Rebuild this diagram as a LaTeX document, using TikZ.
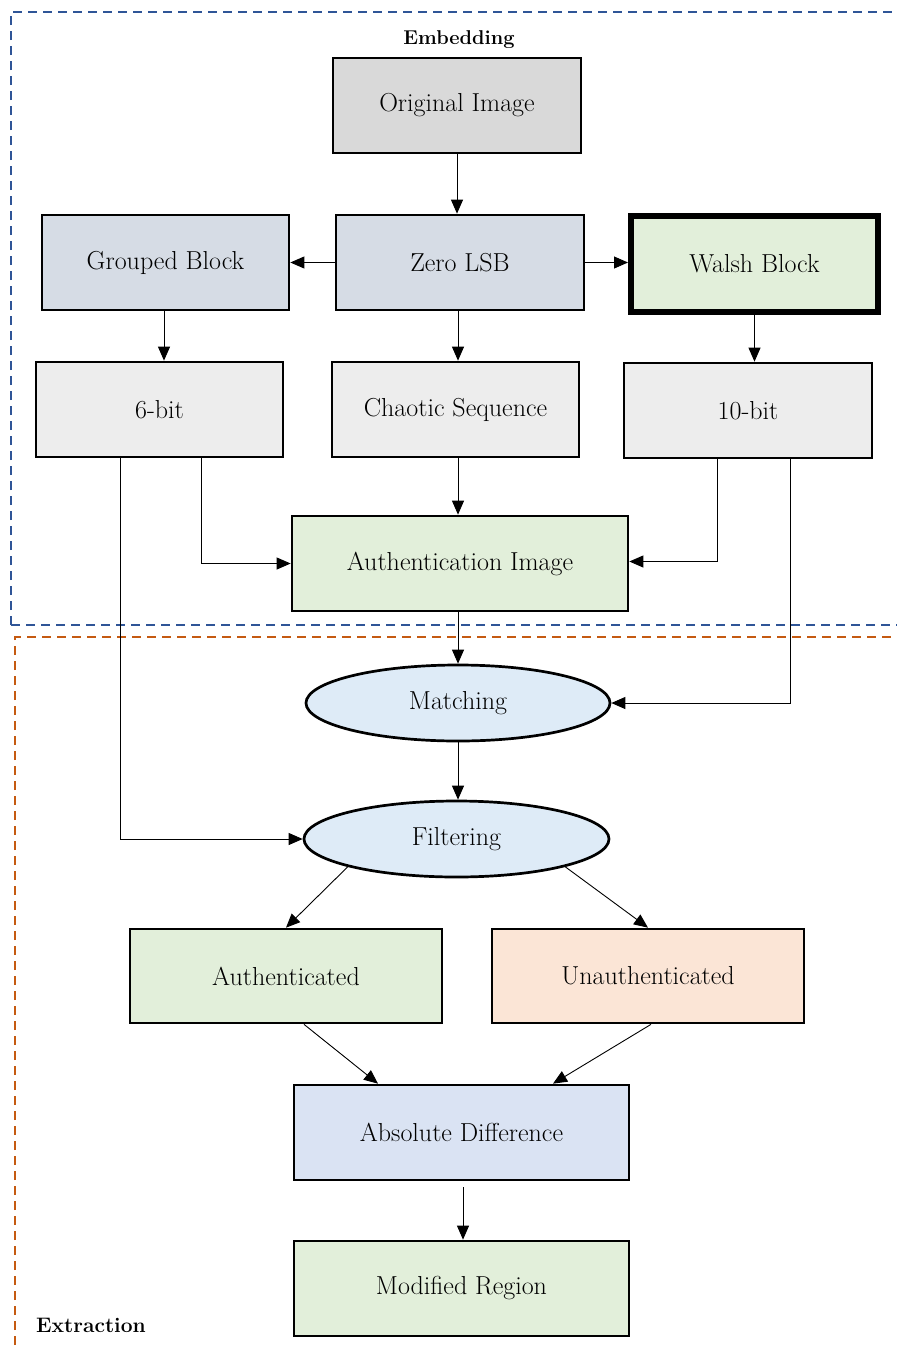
\documentclass[tikz,border=0pt]{standalone}
\usepackage{fontspec}
\setmainfont{Latin Modern Roman}
\usetikzlibrary{arrows.meta,shapes.geometric}
\definecolor{cgray}{HTML}{D9D9D9}
\definecolor{cblue}{HTML}{D6DCE5}
\definecolor{cgreen}{HTML}{E2EFDA}
\definecolor{clight}{HTML}{EDEDED}
\definecolor{cell}{HTML}{DEEBF7}
\definecolor{corange}{HTML}{FBE5D6}
\definecolor{cabs}{HTML}{DAE3F3}
\definecolor{dblue}{HTML}{2F5597}
\definecolor{dorange}{HTML}{C55A11}
\tikzset{
  box/.style={draw=black, line width=2.7pt, rectangle, inner sep=0pt,
    font=\fontsize{26}{30}\selectfont, text=black},
  ell/.style={draw=black, line width=2.7pt, ellipse, inner sep=0pt,
    font=\fontsize{26}{30}\selectfont, text=black, fill=cell},
  arr/.style={line width=0.9pt, -{Triangle[length=14pt,width=12pt]}},
  lbl/.style={font=\fontsize{20}{24}\selectfont\bfseries, inner sep=0pt}
}
\begin{document}
\begin{tikzpicture}[x=1pt,y=-1pt]
\useasboundingbox (0,0) rectangle (897,1347);
% group frames
\draw[dblue, line width=2.4pt, dash pattern=on 9pt off 6pt] (11,625) -- (11,12) -- (910,12);
\draw[dblue, line width=2.4pt, dash pattern=on 9pt off 6pt] (11,625) -- (910,625);
\draw[dorange, line width=2.4pt, dash pattern=on 9pt off 6pt] (15,1360) -- (15,637) -- (910,637);
\node[lbl] (emb) at (459,40) {Embedding};
\node[lbl, font=\fontsize{21}{25}\selectfont\bfseries, anchor=west] (ext) at (36,1325) {Extraction};
% nodes
\node[box, fill=cgray, minimum width=248, minimum height=95] (orig) at (457,105.5) {Original Image};
\node[box, fill=cblue, minimum width=248, minimum height=95] (zero) at (460,262.5) {Zero LSB};
\node[box, fill=cblue, minimum width=247, minimum height=95] (grouped) at (165.5,262.5) {Grouped Block};
\node[box, fill=cgreen, line width=6pt, minimum width=247, minimum height=96] (walsh) at (754.5,264) {Walsh Block};
\node[box, fill=clight, minimum width=247, minimum height=95] (sixbit) at (159.5,409.5) {6-bit};
\node[box, fill=clight, minimum width=247, minimum height=95] (chaotic) at (455.5,409.5) {Chaotic Sequence};
\node[box, fill=clight, minimum width=248, minimum height=95] (tenbit) at (748,410.5) {10-bit};
\node[box, fill=cgreen, minimum width=336, minimum height=95] (authimg) at (460,563.5) {Authentication Image};
\node[ell, minimum width=304, minimum height=76] (matching) at (458,703) {Matching};
\node[ell, minimum width=305, minimum height=76] (filtering) at (456.5,839) {Filtering};
\node[box, fill=cgreen, minimum width=312, minimum height=94] (authd) at (286,976) {Authenticated};
\node[box, fill=corange, minimum width=312, minimum height=94] (unauth) at (648,976) {Unauthenticated};
\node[box, fill=cabs, minimum width=335, minimum height=95] (absdiff) at (461.5,1132.5) {Absolute Difference};
\node[box, fill=cgreen, minimum width=335, minimum height=95] (modreg) at (461.5,1288.5) {Modified Region};
% connectors
\draw[arr] (orig.south) -- (orig.south |- zero.north);
\draw[arr] (zero.west) -- (grouped.east);
\draw[arr] (zero.east) -- (zero.east -| walsh.west);
\draw[arr] ([xshift=-1.5pt]grouped.south) -- ([xshift=-1.5pt]grouped.south |- sixbit.north);
\draw[arr] ([xshift=-2pt]zero.south) -- ([xshift=-2pt]zero.south |- chaotic.north);
\draw[arr] (walsh.south) -- (walsh.south |- tenbit.north);
\draw[arr] ([xshift=2.5pt]chaotic.south) -- ([xshift=2.5pt]chaotic.south |- authimg.north);
\draw[arr] ([xshift=41.5pt]sixbit.south) |- (authimg.west);
\draw[arr] ([xshift=-31pt]tenbit.south) |- ([yshift=2pt]authimg.east);
\draw[arr] ([xshift=-2pt]authimg.south) -- ([xshift=-2pt]authimg.south |- matching.north);
\draw[arr] ([xshift=42pt]tenbit.south) |- (matching.east);
\draw[arr] (matching.south) -- (matching.south |- filtering.north);
\draw[arr] ([xshift=-39.5pt]sixbit.south) |- (filtering.west);
\draw[arr] (filtering.south west) -- (authd.north);
\draw[arr] (filtering.south east) -- (unauth.north);
\draw[arr] ([xshift=18pt]authd.south) -- ([xshift=-83.5pt]absdiff.north);
\draw[arr] ([xshift=3pt]unauth.south) -- ([xshift=91.5pt]absdiff.north);
\draw[arr] ([yshift=-6pt,xshift=1.5pt]absdiff.south) -- ([xshift=1.5pt]modreg.north);
\end{tikzpicture}
\end{document}
